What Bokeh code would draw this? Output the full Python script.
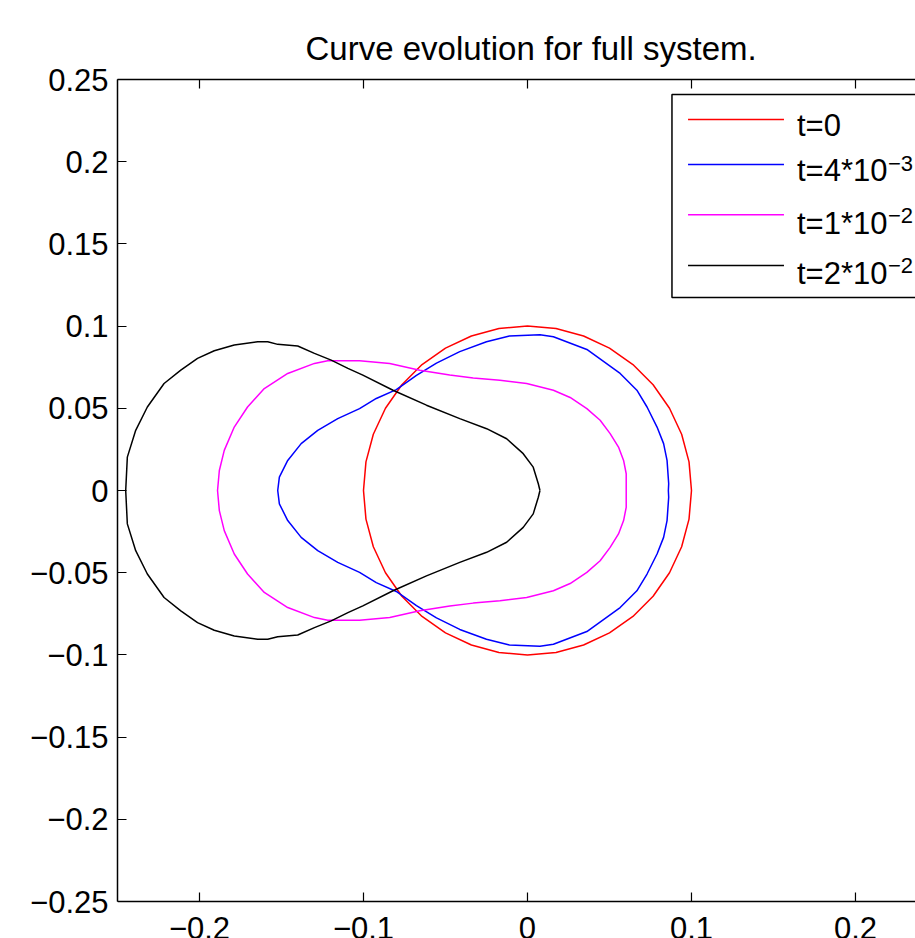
from bokeh.plotting import figure
from bokeh.models import Range1d, FixedTicker, CustomJSTickFormatter
from bokeh.core.properties import value
from bokeh.embed import file_html
from bokeh.resources import INLINE

# ---------------- data ----------------
title_text = "Curve evolution for full system."

xticks = [-0.2, -0.1, 0, 0.1, 0.2]
xtick_labels = ["\u22120.2", "\u22120.1", "0", "0.1", "0.2"]
yticks = [-0.25, -0.2, -0.15, -0.1, -0.05, 0, 0.05, 0.1, 0.15, 0.2, 0.25]
ytick_labels = ["\u22120.25", "\u22120.2", "\u22120.15", "\u22120.1", "\u22120.05", "0",
                "0.05", "0.1", "0.15", "0.2", "0.25"]

series_names = ["t=0", "t=4*10", "t=1*10", "t=2*10"]
series_sup = ["", "\u22123", "\u22122", "\u22122"]
series_colors = ["#ff0000", "#0000ff", "#ff00ff", "#000000"]

# t = 0
red_x = [0.1000, 0.0985, 0.0940, 0.0866, 0.0766, 0.0643, 0.0500, 0.0342, 0.0174, 0.0000,
         -0.0174, -0.0342, -0.0500, -0.0643, -0.0766, -0.0866, -0.0940, -0.0985, -0.1000,
         -0.0985, -0.0940, -0.0866, -0.0766, -0.0643, -0.0500, -0.0342, -0.0174, 0.0000,
         0.0174, 0.0342, 0.0500, 0.0643, 0.0766, 0.0866, 0.0940, 0.0985, 0.1000]
red_y = [0.0000, 0.0174, 0.0342, 0.0500, 0.0643, 0.0766, 0.0866, 0.0940, 0.0985, 0.1000,
         0.0985, 0.0940, 0.0866, 0.0766, 0.0643, 0.0500, 0.0342, 0.0174, 0.0000,
         -0.0174, -0.0342, -0.0500, -0.0643, -0.0766, -0.0866, -0.0940, -0.0985, -0.1000,
         -0.0985, -0.0940, -0.0866, -0.0766, -0.0643, -0.0500, -0.0342, -0.0174, 0.0000]

# t = 4e-3
blue_x = [0.0859, 0.0861, 0.0851, 0.0830, 0.0790, 0.0729, 0.0667, 0.0565, 0.0362, 0.0158,
          0.0076, -0.0110, -0.0250, -0.0413, -0.0555, -0.0677, -0.0800, -0.0922, -0.1024,
          -0.1157, -0.1279, -0.1380, -0.1462, -0.1513, -0.1523,
          -0.1513, -0.1462, -0.1380, -0.1279, -0.1157, -0.1024, -0.0922, -0.0800, -0.0677,
          -0.0555, -0.0413, -0.0250, -0.0110, 0.0076, 0.0158, 0.0362, 0.0565, 0.0667, 0.0729,
          0.0790, 0.0830, 0.0851, 0.0861, 0.0859]
blue_y = [0.0000, 0.0041, 0.0183, 0.0285, 0.0386, 0.0508, 0.0610, 0.0712, 0.0858, 0.0935,
          0.0947, 0.0940, 0.0905, 0.0845, 0.0775, 0.0700, 0.0614, 0.0560, 0.0498,
          0.0437, 0.0366, 0.0285, 0.0183, 0.0081, 0.0000,
          -0.0081, -0.0183, -0.0285, -0.0366, -0.0437, -0.0498, -0.0560, -0.0614, -0.0700,
          -0.0775, -0.0845, -0.0905, -0.0940, -0.0947, -0.0935, -0.0858, -0.0712, -0.0610, -0.0508,
          -0.0386, -0.0285, -0.0183, -0.0041, 0.0000]

# t = 1e-2
mag_x = [0.0602, 0.0602, 0.0586, 0.0555, 0.0504, 0.0443, 0.0362, 0.0260, 0.0158, -0.0005,
         -0.0168, -0.0331, -0.0474, -0.0657, -0.0840, -0.1024, -0.1218, -0.1299, -0.1462,
         -0.1605, -0.1707, -0.1788, -0.1849, -0.1879, -0.1890,
         -0.1879, -0.1849, -0.1788, -0.1707, -0.1605, -0.1462, -0.1299, -0.1218, -0.1024,
         -0.0840, -0.0657, -0.0474, -0.0331, -0.0168, -0.0005, 0.0158, 0.0260, 0.0362, 0.0443,
         0.0504, 0.0555, 0.0586, 0.0602, 0.0602]
mag_y = [0.0000, 0.0102, 0.0183, 0.0264, 0.0346, 0.0427, 0.0498, 0.0566, 0.0610, 0.0651,
         0.0671, 0.0685, 0.0702, 0.0732, 0.0773, 0.0789, 0.0789, 0.0773, 0.0712,
         0.0620, 0.0508, 0.0386, 0.0244, 0.0122, 0.0000,
         -0.0122, -0.0244, -0.0386, -0.0508, -0.0620, -0.0712, -0.0773, -0.0789, -0.0789,
         -0.0773, -0.0732, -0.0702, -0.0685, -0.0671, -0.0651, -0.0610, -0.0566, -0.0498, -0.0427,
         -0.0346, -0.0264, -0.0183, -0.0102, 0.0000]

# t = 2e-2
blk_x = [0.0076, 0.0066, 0.0035, -0.0026, -0.0127, -0.0249, -0.0413, -0.0616, -0.0820,
         -0.1004, -0.1095, -0.1197, -0.1299, -0.1401, -0.1523, -0.1584, -0.1645, -0.1788,
         -0.1910, -0.2012, -0.2114, -0.2216, -0.2318, -0.2389, -0.2440, -0.2450,
         -0.2440, -0.2389, -0.2318, -0.2216, -0.2114, -0.2012, -0.1910, -0.1788, -0.1645,
         -0.1584, -0.1523, -0.1401, -0.1299, -0.1197, -0.1095, -0.1004, -0.0820, -0.0616,
         -0.0413, -0.0249, -0.0127, -0.0026, 0.0035, 0.0066, 0.0076]
blk_y = [0.0000, 0.0041, 0.0142, 0.0224, 0.0315, 0.0376, 0.0437, 0.0519, 0.0610,
         0.0702, 0.0743, 0.0793, 0.0834, 0.0879, 0.0889, 0.0905, 0.0905, 0.0885,
         0.0850, 0.0804, 0.0732, 0.0651, 0.0508, 0.0366, 0.0203, 0.0000,
         -0.0203, -0.0366, -0.0508, -0.0651, -0.0732, -0.0804, -0.0850, -0.0885, -0.0905,
         -0.0905, -0.0889, -0.0879, -0.0834, -0.0793, -0.0743, -0.0702, -0.0610, -0.0519,
         -0.0437, -0.0376, -0.0315, -0.0224, -0.0142, -0.0041, 0.0000]

curves_x = [red_x, blue_x, mag_x, blk_x]
curves_y = [red_y, blue_y, mag_y, blk_y]

# ---------------- layout / style ----------------
FONT = "Liberation Sans"
FS = "31px"
X_LO, Y_LO, Y_HI = -0.25, -0.25, 0.25      # axis box limits
X_VIEW_END = 0.2366                        # page cuts the plot on the right
Y_VIEW_START = -0.2725                     # page cuts the plot at the bottom
PX_PER_Y = 1644.0
TICK_PX = 9

p = figure(width=915, height=938, output_backend="svg", toolbar_location=None,
           x_range=Range1d(X_LO, X_VIEW_END), y_range=Range1d(Y_VIEW_START, Y_HI),
           x_axis_location="above",
           min_border_left=117, min_border_right=0, min_border_top=79,
           min_border_bottom=0)
p.outline_line_color = None
p.grid.visible = False
p.background_fill_color = "white"
p.border_fill_color = "white"

def style_axis(ax, ticks):
    ax.ticker = FixedTicker(ticks=ticks, minor_ticks=[])
    ax.major_tick_in = TICK_PX
    ax.major_tick_out = 0
    ax.minor_tick_in = 0
    ax.minor_tick_out = 0
    ax.axis_line_width = 1.5
    ax.axis_line_color = "black"
    ax.major_tick_line_width = 1.2
    ax.major_tick_line_color = "black"

# top axis: ticks only
top = p.xaxis[0]
style_axis(top, xticks)
top.formatter = CustomJSTickFormatter(code="return '';")
top.major_label_text_font_size = "1px"
top.major_label_standoff = 0

# left axis
left = p.yaxis[0]
style_axis(left, yticks)
left.bounds = (Y_LO, Y_HI)
left.major_label_text_font = FONT
left.major_label_text_font_size = FS
left.major_label_text_color = "black"
left.major_label_standoff = 9
left.formatter = CustomJSTickFormatter(
    args=dict(ytv=yticks, ytl=ytick_labels),
    code="""
    for (let i = 0; i < ytv.length; i++) {
        if (Math.abs(ytv[i] - tick) < 1e-9) { return ytl[i]; }
    }
    return String(tick);
    """)

# title
p.title.text = title_text
p.title.text_font = FONT
p.title.text_font_size = "33px"
p.title.text_font_style = "normal"
p.title.text_color = "black"
p.title.align = "left"
p.title.offset = 188
p.title.standoff = 26

# bottom box edge, ticks and tick labels
n = len(xticks)
p.segment(x0=[X_LO], y0=[Y_LO], x1=[X_VIEW_END], y1=[Y_LO],
          line_color="black", line_width=1.5)
p.segment(x0=xticks, y0=[Y_LO] * n, x1=xticks, y1=[Y_LO + TICK_PX / PX_PER_Y] * n,
          line_color="black", line_width=1.2)
p.text(x=xticks, y=[Y_LO - 15 / PX_PER_Y] * n, text=xtick_labels,
       text_font=value(FONT), text_font_size=value(FS), text_color="black",
       text_align="center", text_baseline="top")

# curves
for cx, cy, col in zip(curves_x, curves_y, series_colors):
    p.line(cx, cy, line_color=col, line_width=1.5)

# legend (drawn manually; its right part is cut off by the page edge)
LEG_LEFT, LEG_RIGHT, LEG_TOP, LEG_BOTTOM = 0.0881, 0.30, 0.2409, 0.1174
row_line_y = [0.2257, 0.1983, 0.1677, 0.1369]
row_base_y = [0.2220, 0.1945, 0.1626, 0.1322]
LINE_X0, LINE_X1, TEXT_X = 0.0979, 0.1564, 0.1643
SUP_RAISE = 0.0047

p.quad(left=[LEG_LEFT], right=[LEG_RIGHT], top=[LEG_TOP], bottom=[LEG_BOTTOM],
       fill_color="white", line_color="black", line_width=1.5)
p.segment(x0=[LINE_X0] * 4, y0=row_line_y, x1=[LINE_X1] * 4, y1=row_line_y,
          line_color=series_colors, line_width=1.5)
p.text(x=[TEXT_X] * 4, y=row_base_y, text=series_names,
       text_font=value(FONT), text_font_size=value(FS), text_color="black",
       text_align="left", text_baseline="alphabetic")
p.text(x=[TEXT_X] * 3, y=[b + SUP_RAISE for b in row_base_y[1:]], text=series_sup[1:],
       x_offset=91, text_font=value(FONT), text_font_size=value("22px"),
       text_color="black", text_align="left", text_baseline="alphabetic")

open("out.html", "w").write(file_html(p, INLINE))
